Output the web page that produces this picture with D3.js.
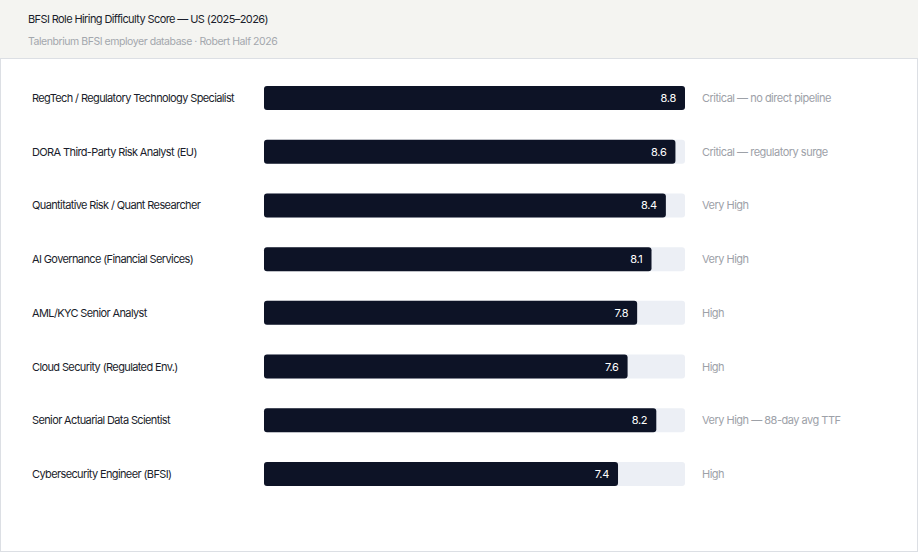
<!DOCTYPE html>
<html><head><meta charset="utf-8">
<script src="https://cdn.jsdelivr.net/npm/d3@7"></script>
<style>
html,body{margin:0;padding:0;background:#fff;}
svg{display:block;}
text{font-family:"Inter","Liberation Sans",sans-serif;}
</style></head>
<body><svg id="c" width="918" height="552"></svg>
<script>
const roles = ["RegTech / Regulatory Technology Specialist","DORA Third-Party Risk Analyst (EU)","Quantitative Risk / Quant Researcher","AI Governance (Financial Services)","AML/KYC Senior Analyst","Cloud Security (Regulated Env.)","Senior Actuarial Data Scientist","Cybersecurity Engineer (BFSI)"];
const scores = [8.8,8.6,8.4,8.1,7.8,7.6,8.2,7.4];
const notes = ["Critical — no direct pipeline","Critical — regulatory surge","Very High","Very High","High","High","Very High — 88-day avg TTF","High"];
const title = "BFSI Role Hiring Difficulty Score — US (2025–2026)";
const subtitle = "Talenbrium BFSI employer database · Robert Half 2026";

const svg = d3.select("#c");
svg.append("rect").attr("x",0).attr("y",0).attr("width",918).attr("height",58).attr("fill","#f4f4f1");
svg.append("rect").attr("x",0.5).attr("y",58.5).attr("width",917).attr("height",493).attr("fill","#fff").attr("stroke","#dcdfe4");
svg.append("text").attr("x",28).attr("y",23).attr("font-size",11).attr("fill","#1a1d2b").attr("letter-spacing",-0.6).text(title);
svg.append("text").attr("x",28).attr("y",45).attr("font-size",10.5).attr("fill","#a3a7ad").attr("letter-spacing",-0.45).text(subtitle);

const x = d3.scaleLinear().domain([0, d3.max(scores)]).range([264, 685]);
const y = d3.scaleBand().domain(roles).range([70, 502]).paddingInner(0.5555).paddingOuter(0.3);
const bh = 24;
const rows = svg.append("g").selectAll("g").data(roles).join("g")
  .attr("transform", d => `translate(0,${y(d) + y.bandwidth()/2})`);
rows.append("rect").attr("x",x(0)).attr("y",-bh/2).attr("width",x.range()[1]-x(0)).attr("height",bh).attr("rx",3).attr("fill","#eceff5");
rows.append("rect").attr("x",x(0)).attr("y",-bh/2).attr("width",(d,i)=>x(scores[i])-x(0)).attr("height",bh).attr("rx",3).attr("fill","#0d1326");
rows.append("text").attr("x",(d,i)=>x(scores[i])-9).attr("y",4).attr("text-anchor","end").attr("font-size",11).attr("fill","#fff").attr("letter-spacing",-0.3).text((d,i)=>scores[i].toFixed(1));
rows.append("text").attr("x",32).attr("y",4).attr("font-size",11).attr("fill","#1a1d2b").attr("letter-spacing",-0.62).text(d=>d);
rows.append("text").attr("x",702).attr("y",4).attr("font-size",11).attr("fill","#9da1a8").attr("letter-spacing",-0.5).text((d,i)=>notes[i]);
</script></body></html>
